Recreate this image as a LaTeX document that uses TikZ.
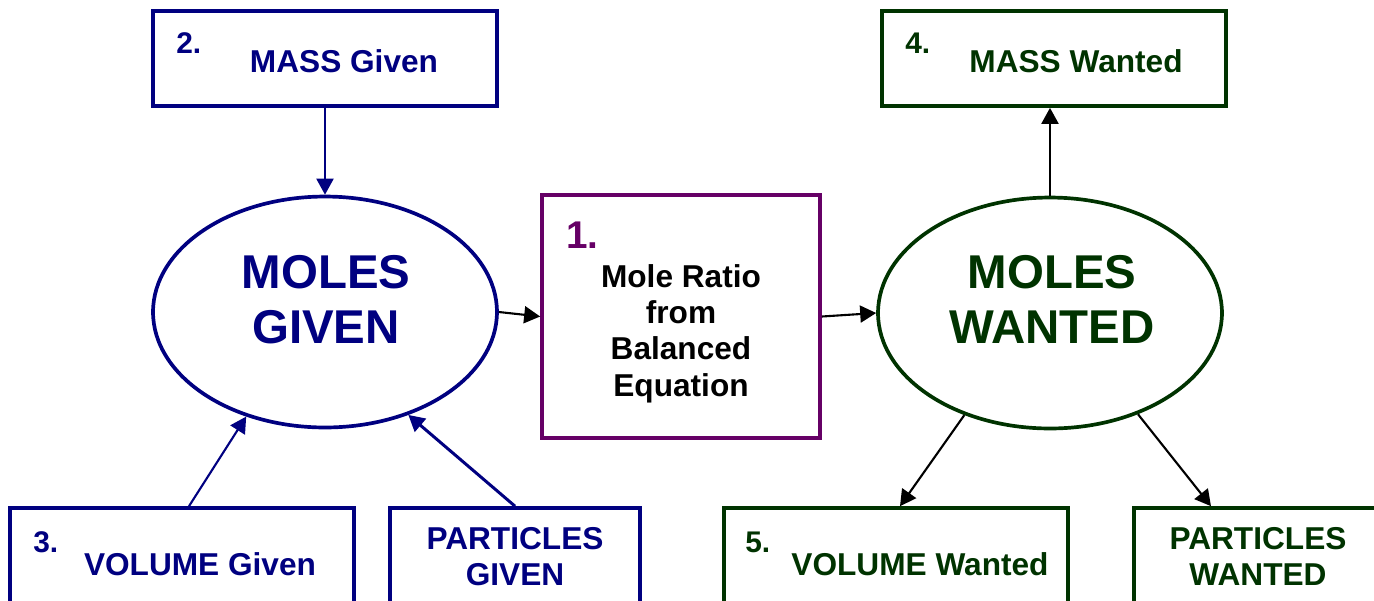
\documentclass[tikz,border=0pt]{standalone}
\usepackage{fontspec}
\setmainfont{Liberation Sans}
\usepackage{xcolor}
\usetikzlibrary{arrows.meta,shapes.geometric}
\definecolor{navy}{RGB}{0,0,128}
\definecolor{dgreen}{RGB}{0,51,0}
\definecolor{plum}{RGB}{102,0,102}

\begin{document}
\begin{tikzpicture}[x=0.02cm,y=-0.02cm,
  box/.style={draw,line width=2.1pt,inner sep=0pt,minimum width=6.88cm,minimum height=1.9cm},
  oval/.style={draw,ellipse,line width=2.1pt,inner sep=0pt,minimum width=6.88cm,minimum height=4.62cm},
  lbl/.style={font=\fontsize{18}{20.2}\selectfont\bfseries,inner sep=0pt,anchor=base,align=center},
  big/.style={font=\fontsize{27}{31.3}\selectfont\bfseries,inner sep=0pt,anchor=base,align=center},
  numlbl/.style={font=\fontsize{17}{20}\selectfont\bfseries,inner sep=0pt,anchor=base west},
  link/.style={-{Triangle[length=3.2mm,width=3.4mm]},line width=1.2pt}]
  \useasboundingbox (0,0) rectangle (1374,600);
  \clip (0,0) rectangle (1374,600);
  % given side
  \node[box,navy] (massG) at (325,58.5) {};
  \node[numlbl,navy] (massGnum) at (176,53) {2.};
  \node[lbl,navy] (massGtxt) at (344,72) {MASS Given};
  \node[oval,navy] (molesG) at (325,312) {};
  \node[big,navy] (molesGtxt) at (326,343) {MOLES\\GIVEN};
  \node[box,navy,minimum height=2.4cm] (volG) at (182,568) {};
  \node[numlbl,navy] (volGnum) at (33,552) {3.};
  \node[lbl,navy] (volGtxt) at (200,575) {VOLUME Given};
  \node[box,navy,minimum width=5cm,minimum height=2.4cm] (partG) at (515,568) {};
  \node[lbl,navy] (partGtxt) at (515,585) {PARTICLES\\GIVEN};
  % mole ratio
  \node[box,plum,minimum width=5.56cm,minimum height=4.86cm] (ratio) at (681,316.5) {};
  \node[numlbl,plum,font=\fontsize{22}{24}\selectfont\bfseries] (ratioNum) at (566,248) {1.};
  \node[lbl,font=\fontsize{18}{20.5}\selectfont\bfseries] (ratioTxt) at (681,396) {Mole Ratio\\from\\Balanced\\Equation};
  % wanted side
  \node[box,dgreen] (massW) at (1054,58.5) {};
  \node[numlbl,dgreen] (massWnum) at (905,53) {4.};
  \node[lbl,dgreen] (massWtxt) at (1076,72) {MASS Wanted};
  \node[oval,dgreen] (molesW) at (1050,313) {};
  \node[big,dgreen] (molesWtxt) at (1052,343) {MOLES\\WANTED};
  \node[box,dgreen,minimum height=2.4cm] (volW) at (896,568) {};
  \node[numlbl,dgreen] (volWnum) at (745,552) {5.};
  \node[lbl,dgreen] (volWtxt) at (920,575) {VOLUME Wanted};
  \node[box,dgreen,minimum width=5cm,minimum height=2.4cm] (partW) at (1259,568) {};
  \node[lbl,dgreen] (partWtxt) at (1258,585) {PARTICLES\\WANTED};
  % arrows
  \draw[link,navy] (massG) -- (molesG);
  \draw[link,navy] ([xshift=0.14cm]volG.north) -- (molesG.233);
  \draw[link,navy,line width=1.7pt] (partG.north) -- (molesG.309);
  \draw[link] (molesG.east) -- (ratio.west);
  \draw[link] (ratio.east) -- (molesW.west);
  \draw[link] (molesW.north) -- (molesW.north |- massW.south);
  \draw[link] (molesW.230) -- ([xshift=0.08cm]volW.north);
  \draw[link] (molesW.311) -- ([xshift=-0.96cm]partW.north);
\end{tikzpicture}
\end{document}
